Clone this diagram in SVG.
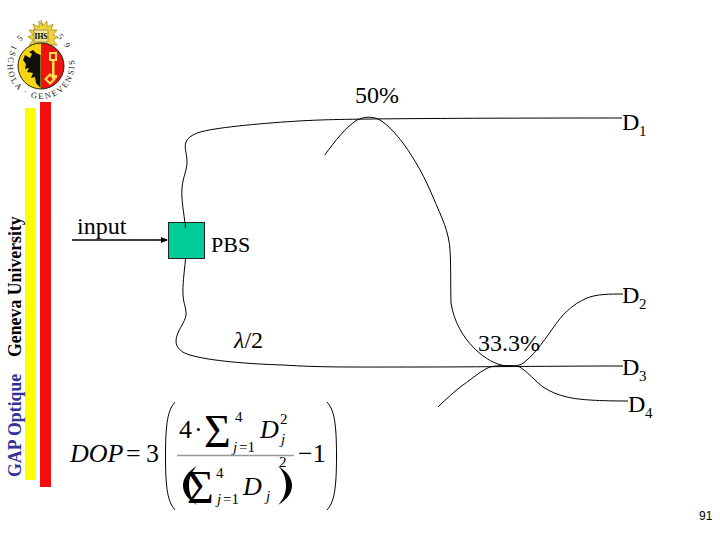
<svg xmlns="http://www.w3.org/2000/svg" width="720" height="540" viewBox="0 0 720 540">
<defs>
<style>
text{font-family:"Liberation Serif","Times New Roman",serif;fill:#000}
.t{font-size:24px}
.s{font-size:15px}
.f{fill:none;stroke:#000;stroke-width:1}
.i{font-style:italic}
.m{font-size:26px}
.ms{font-size:15px}
.sig{font-size:46px}
.seal{font-size:8.500px;letter-spacing:1.800px;fill:#222}
</style>
<marker id="ah" markerWidth="8" markerHeight="8" refX="6" refY="3" orient="auto" markerUnits="userSpaceOnUse"><path d="M0 0L7 3L0 6Z" fill="#000"/></marker>
<path id="ringB" d="M13 47A33.500 33.500 0 1 0 69 47"/>
<path id="ringT" d="M15 52A27 27 0 0 1 67 52"/>
</defs>
<rect width="720" height="540" fill="#fff"/>
<g id="logo">
<path d="M41 20l2 6 4-5 0 6 6-3-2 6 6 0-4 5 5 2-5 3 4 5-6 0 1 6-5-3-1 5-3-5-3 5-1-5-5 3 1-6-6 0 4-5-5-3 5-2-4-5 6 0-2-6 6 3 0-6 4 5z" fill="#f0d23a" stroke="#a89020" stroke-width="0.800"/>
<rect x="34" y="30" width="14" height="12" fill="#efe58a" stroke="#555" stroke-width="0.500"/>
<text x="41" y="39" text-anchor="middle" style="font-size:7.500px;font-weight:bold">IHS</text>
<circle cx="41" cy="66" r="23" fill="#f7d511"/>
<path d="M41 43A23 23 0 0 1 41 89Z" fill="#ee1212"/>
<circle cx="41" cy="66" r="23" fill="none" stroke="#222" stroke-width="1"/>
<path d="M40.500 55L36 53L33 50L29 52L32 54L30 58L25 55L23 60L26 64L25 69L29 68L27 72L33 73L31 78L35 77L36 83L40.500 88Z" fill="#111"/>
<path d="M49 52H57V61H54.500V75H57V78H54.500V79H52V61H49ZM51 54V59H55V54Z" fill="#ffe34d"/>
<path d="M44 79L50 73L56 79L50 85ZM47 79L50 82L53 79L50 76Z" fill="#ffe34d" fill-rule="evenodd"/>
<text class="seal"><textPath href="#ringB" startOffset="3%">SCHOLA · GENEVENSIS</textPath></text>
<text class="seal"><textPath href="#ringT" startOffset="2%">1 5</textPath></text>
<text class="seal"><textPath href="#ringT" startOffset="74%">5 9</textPath></text>
</g>
<g id="sidebar">
<rect x="25" y="108" width="11" height="372" fill="#ffff00"/>
<rect x="40" y="102" width="11" height="385" fill="#f40d0d"/>
<text transform="translate(21 477) rotate(-90)" style="font-size:17.800px;font-weight:bold;fill:#33339a">GAP Optique</text>
<text transform="translate(21 357) rotate(-90)" style="font-size:17.800px;font-weight:bold">Geneva University</text>
</g>
<g id="connectors">
<path class="f" d="M185.300 227C184 212 181 200 182 188C183 176 187.500 170 187 160C186.500 152 184 148 186 142C189 134 202 131 215 129C240 125 290 121 320 120C360 118.500 500 118 622 118"/>
<path class="f" d="M324.700 155C335 141 346 127 357 120C364 116.500 373 116 380 120C388 125 396 134 403 143C416 161 425 178 433 197C442 218 449 232 450 250C451 265 450.500 285 451 303C454 322 463 337 474 348C485 359 496 365 507 366"/>
<path class="f" d="M507 366C513 366 518 366 522 364C533 356 541 345 553 328C562 315 571 305 587 298C597 294 610 294 623 294"/>
<path class="f" d="M185.500 259C184 275 182.500 285 183 295C183.500 304 186.500 308 186 315C185.500 322 176 332 176 341C176 349 183 353 190 355C210 361 250 364 283 365C320 367.500 350 367 420 367C470 367 560 366 623 366"/>
<path class="f" d="M438 407C446 399 455 391 463 385C473 378 482 370 490 367C497 365 512 365 520 367C528 372 535 381 543 387C551 392 558 395 567 397C579 400 600 401 628 401"/>
<path d="M72 240H167" stroke="#000" stroke-width="1.500" fill="none" marker-end="url(#ah)"/>
</g>
<g id="pbs">
<rect x="168.500" y="222.500" width="36" height="36" fill="#00cc99" stroke="#222" stroke-width="1"/>
<path d="M185.300 222V228" stroke="#000"/>
<text x="211" y="252" style="font-size:22px">PBS</text>
</g>
<g id="labels">
<text class="t" x="77" y="234">input</text>
<text class="t" x="355" y="103">50%</text>
<text class="t" x="234" y="348"><tspan class="i">λ</tspan>/2</text>
<text class="t" x="478" y="351">33.3%</text>
<text class="t" x="622" y="130">D</text><text class="s" x="639" y="136">1</text>
<text class="t" x="622" y="303">D</text><text class="s" x="639" y="309">2</text>
<text class="t" x="622" y="375">D</text><text class="s" x="639" y="381">3</text>
<text class="t" x="628" y="412">D</text><text class="s" x="645" y="418">4</text>
<text x="699" y="520" style="font-size:12px;font-family:'Liberation Sans',Arial,sans-serif">91</text>
</g>
<g id="formula">
<text class="m i" x="70" y="462">DOP</text>
<text class="m" x="126" y="462">=</text>
<text class="m" x="146" y="462">3</text>
<path class="f" d="M175 402C168 410 165.500 422 165.500 456C165.500 490 168 502 175 510"/>
<path class="f" d="M327 402C334 410 336.500 422 336.500 456C336.500 490 334 502 327 510"/>
<text class="m" x="179" y="438">4</text>
<text class="m" x="194" y="438">·</text>
<text class="sig" x="204" y="447">Σ</text>
<text class="ms" x="235" y="422">4</text>
<text class="ms i" x="233" y="452">j</text><text class="ms" x="239" y="452">=1</text>
<text class="m i" x="260" y="438">D</text>
<text class="ms" x="280" y="424">2</text>
<text class="ms i" x="281" y="444">j</text>
<path d="M177 455.500H294" stroke="#999" stroke-width="1.500"/>
<path d="M197 466C187 472 183 479 183 485.500C183 492 187 499 197 505C191 499 189 492 189 485.500C189 479 191 472 197 466Z"/>
<text class="sig" x="187" y="503">Σ</text>
<text class="ms" x="216" y="478">4</text>
<text class="ms i" x="217" y="504">j</text><text class="ms" x="223" y="504">=1</text>
<text class="m i" x="243" y="495">D</text>
<text class="ms i" x="266" y="501">j</text>
<path d="M278 466C288 472 292 479 292 485.500C292 492 288 499 278 505C284 499 286 492 286 485.500C286 479 284 472 278 466Z"/>
<text class="ms" x="279" y="467">2</text>
<text class="m" x="298" y="462">−1</text>
</g>
</svg>
